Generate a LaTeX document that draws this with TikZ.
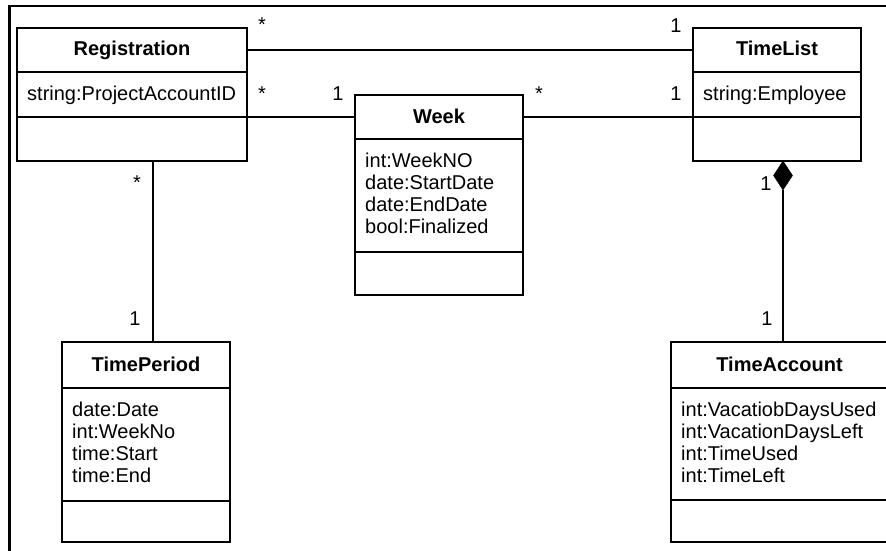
\documentclass[tikz,border=0pt]{standalone}
\usepackage{fontspec}
\setmainfont{Liberation Sans}
\usetikzlibrary{shapes.geometric}

\tikzset{
  cell/.style={draw=black, line width=1.1pt, rectangle, inner sep=0pt, outer sep=0pt, anchor=north west},
  title/.style={font=\fontsize{20}{22.3}\selectfont\bfseries, anchor=base, inner sep=0pt},
  attrs/.style={font=\fontsize{20}{22.3}\selectfont, anchor=base west, inner sep=0pt},
  mult/.style={font=\fontsize{20}{22.3}\selectfont, anchor=base, inner sep=0pt},
  link/.style={draw=black, line width=1.1pt},
  frameline/.style={draw=black, line width=2.2pt, line join=miter},
  composite/.style={diamond, fill=black, draw=black, line width=0.4pt, outer sep=0pt,
    minimum width=19pt, minimum height=29pt, inner sep=0pt, anchor=north},
}

% UML class: name, x, y (top left), width, heights of the three compartments,
% class name, attribute lines
\newcommand\classbox[9]{%
  \node[cell, minimum width=#4pt, minimum height=#5pt] (#1) at (#2,#3) {};
  \node[cell, minimum width=#4pt, minimum height=#6pt] (#1-a) at (#1.south west) {};
  \node[cell, minimum width=#4pt, minimum height=#7pt] (#1-o) at (#1-a.south west) {};
  \node[title] (#1-t) at ([yshift=-6pt]#1.center) {#8};
  \node[attrs] (#1-l) at ([xshift=10pt,yshift=-28pt]#1-a.north west)
    {\parbox[t]{210pt}{#9}};
}

\begin{document}
\begin{tikzpicture}[x=1pt, y=-1pt]
\useasboundingbox (0,0) rectangle (886,551);
\clip (0,0) rectangle (886,551);
\fill[white] (0,0) rectangle (886,551);

% frame
\draw[frameline] (887,6) -- (9.5,6) -- (9.5,552);

% classes
\classbox{reg}{17}{28}{230}{44}{45}{44}{Registration}{string:ProjectAccountID}
\classbox{tl}{693}{28}{168}{44}{45}{44}{TimeList}{string:Employee}
\classbox{week}{355}{95}{168}{44}{113}{43}{Week}%
  {int:WeekNO\\date:StartDate\\date:EndDate\\bool:Finalized}
\classbox{tp}{62}{342}{168}{46}{113}{41}{TimePeriod}%
  {date:Date\\int:WeekNo\\time:Start\\time:End}
\classbox{ta}{671}{342}{217}{46}{112}{42}{TimeAccount}%
  {int:VacatiobDaysUsed\\int:VacationDaysLeft\\int:TimeUsed\\int:TimeLeft}

% associations
\draw[link] (reg.east) -- (tl.west);
\draw[link] (reg-a.south east) -- (week.west);
\draw[link] (week.east) -- (tl-a.south west);

\path (reg-o.south) ++(21pt,0pt) coordinate (rtp);
\draw[link] (rtp) -- (rtp |- tp.north);

% composition TimeList <>-- TimeAccount
\path (tl-o.south) ++(6pt,0pt) coordinate (tlc);
\node[composite] (dia) at (tlc) {};
\draw[link] (dia.south) -- (dia.south |- ta.north);

% multiplicities
\node[mult] (m1) at (262,32) {*};
\node[mult] (m2) at (676,33) {1};
\node[mult] (m3) at (262,100) {*};
\node[mult] (m4) at (338,100) {1};
\node[mult] (m5) at (539,100) {*};
\node[mult] (m6) at (676,100) {1};
\node[mult] (m7) at (137,189) {*};
\node[mult] (m8) at (135,325) {1};
\node[mult] (m9) at (766,190) {1};
\node[mult] (m10) at (767,325) {1};
\end{tikzpicture}
\end{document}
